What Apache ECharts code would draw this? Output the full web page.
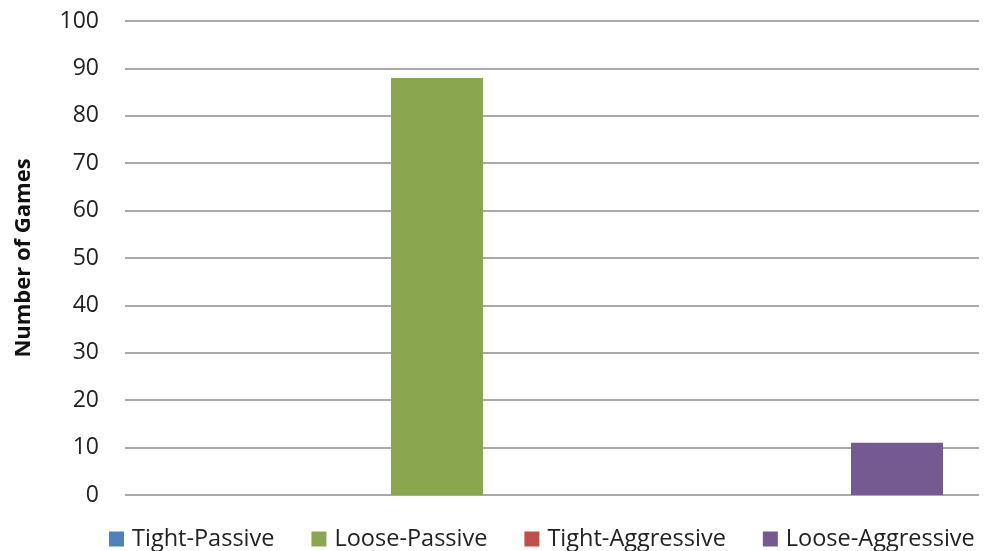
<!DOCTYPE html>
<html>
<head>
<meta charset="utf-8">
<script src="https://cdn.jsdelivr.net/npm/echarts@6/dist/echarts.min.js"></script>
<style>
  html, body { margin: 0; padding: 0; background: #fff; }
  #chart { width: 990px; height: 551px; }
</style>
</head>
<body>
<div id="chart"></div>
<script>
// data
var categories = ["Games"];
var seriesNames = ["Tight-Passive", "Loose-Passive", "Tight-Aggressive", "Loose-Aggressive"];
var seriesValues = [0, 88, 0, 11];
var seriesColors = ["#4f81bd", "#8aa64f", "#c0504d", "#745a90"];
var yMin = 0, yMax = 100, yStep = 10;

var font = "'Open Sans', 'DejaVu Sans', sans-serif";

var chart = echarts.init(document.getElementById("chart"));

var series = seriesNames.map(function (name, i) {
  return {
    name: name,
    type: "bar",
    data: [seriesValues[i]],
    barWidth: 92,
    barGap: "150%",
    itemStyle: { color: seriesColors[i] }
  };
});

chart.setOption({
  animation: false,
  color: seriesColors,
  textStyle: { fontFamily: font },
  grid: { left: 125, right: 11, top: 21, bottom: 56 },
  legend: {
    left: 109,
    top: 527,
    padding: 0,
    icon: "rect",
    itemWidth: 15,
    itemHeight: 15,
    itemGap: 37,
    textStyle: { fontFamily: font, fontSize: 23.5, lineHeight: 24, color: "#222", padding: [0, 0, 0, 3] },
    data: seriesNames
  },
  xAxis: {
    type: "category",
    data: categories,
    axisLine: { show: false },
    axisTick: { show: false },
    axisLabel: { show: false }
  },
  yAxis: {
    type: "value",
    min: yMin,
    max: yMax,
    interval: yStep,
    name: "Number of Games",
    nameLocation: "middle",
    nameGap: 90,
    nameTextStyle: { fontFamily: font, fontSize: 22, fontWeight: "bold", color: "#111" },
    axisLine: { show: false },
    axisTick: { show: false },
    axisLabel: { margin: 26, fontSize: 23, color: "#222", fontFamily: font },
    splitLine: { lineStyle: { color: "#8c8c8c", width: 1.5 } }
  },
  series: series
});
</script>
</body>
</html>
